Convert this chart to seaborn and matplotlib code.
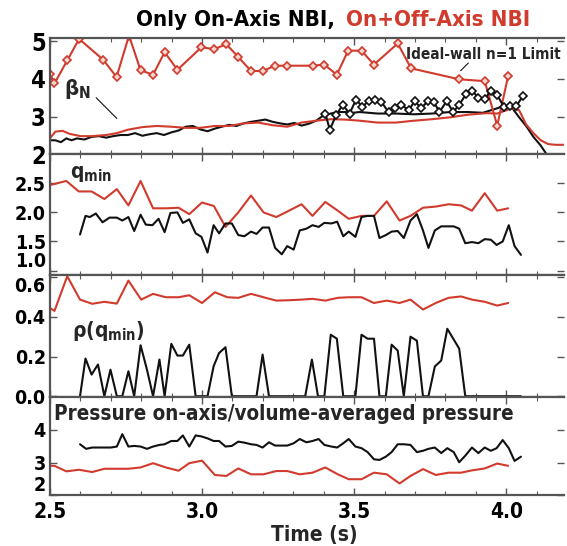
import numpy as np
import pandas as pd
import seaborn as sns
import matplotlib
matplotlib.use("Agg")
import matplotlib.pyplot as plt
from matplotlib import font_manager
from matplotlib.ticker import MultipleLocator, FormatStrFormatter

RED = '#d13b2d'
BLACK = '#111111'

# ---- panel 1: beta_N and ideal-wall limit ----
lim_t = [2.50, 2.515, 2.557, 2.596, 2.675, 2.719, 2.760, 2.798, 2.839, 2.877, 2.919,
         2.998, 3.039, 3.080, 3.119, 3.161, 3.200, 3.240, 3.280, 3.363, 3.402, 3.443,
         3.480, 3.524, 3.565, 3.643, 3.687, 3.845, 3.929, 3.970, 4.006]
lim_v = [4.14, 3.88, 4.49, 5.06, 4.51, 4.05, 5.15, 4.23, 4.11, 4.71, 4.24,
         4.84, 4.79, 4.92, 4.58, 4.21, 4.21, 4.35, 4.35, 4.35, 4.38, 4.11,
         4.75, 4.75, 4.38, 4.94, 4.28, 3.99, 3.94, 2.76, 4.08]

lim_on_t = [3.405, 3.420, 3.440, 3.462, 3.485, 3.506, 3.527, 3.548, 3.569, 3.589, 3.613,
            3.635, 3.655, 3.679, 3.699, 3.720, 3.742, 3.762, 3.780, 3.804, 3.825, 3.845,
            3.867, 3.887, 3.908, 3.929, 3.950, 3.970, 3.992, 4.012, 4.033, 4.054]
lim_on_v = [3.08, 2.65, 3.03, 3.31, 3.08, 3.45, 3.26, 3.42, 3.44, 3.39, 3.12,
            3.22, 3.31, 3.17, 3.41, 3.22, 3.41, 3.39, 3.12, 3.41, 3.12, 3.31,
            3.59, 3.69, 3.50, 3.47, 3.69, 3.57, 3.26, 3.28, 3.28, 3.54]

bn_on_t = [2.500, 2.518, 2.536, 2.554, 2.571, 2.589, 2.613, 2.637, 2.661, 2.685, 2.708,
           2.732, 2.756, 2.780, 2.804, 2.827, 2.851, 2.875, 2.899, 2.923, 2.946, 2.970,
           2.994, 3.018, 3.042, 3.065, 3.089, 3.113, 3.137, 3.161, 3.185, 3.208, 3.232,
           3.256, 3.280, 3.304, 3.327, 3.351, 3.375, 3.399, 3.423, 3.446, 3.470, 3.494,
           3.518, 3.577, 3.637, 3.696, 3.756, 3.815, 3.875, 3.923, 3.970, 3.994, 4.018,
           4.042, 4.065, 4.089, 4.113, 4.137, 4.161]
bn_on_v = [2.37, 2.37, 2.32, 2.42, 2.37, 2.42, 2.39, 2.46, 2.48, 2.44, 2.48,
           2.51, 2.51, 2.56, 2.49, 2.53, 2.56, 2.51, 2.58, 2.63, 2.73, 2.75,
           2.66, 2.61, 2.68, 2.73, 2.78, 2.75, 2.82, 2.86, 2.89, 2.92, 2.86,
           2.82, 2.79, 2.83, 2.76, 2.81, 2.89, 3.03, 3.08, 3.12, 3.12, 3.10,
           3.12, 3.08, 3.08, 3.06, 3.08, 3.12, 3.12, 3.10, 3.22, 3.29, 3.24,
           2.98, 2.75, 2.46, 2.23, 1.94, 1.80]

bn_off_t = [2.500, 2.518, 2.542, 2.565, 2.601, 2.637, 2.685, 2.720, 2.756, 2.804, 2.851,
            2.899, 2.946, 2.994, 3.042, 3.089, 3.137, 3.185, 3.232, 3.280, 3.327, 3.375,
            3.423, 3.470, 3.518, 3.577, 3.637, 3.696, 3.756, 3.815, 3.875, 3.935, 3.970,
            4.018, 4.042, 4.065, 4.089, 4.113, 4.137, 4.161, 4.194]
bn_off_v = [2.42, 2.60, 2.62, 2.54, 2.48, 2.48, 2.51, 2.56, 2.65, 2.72, 2.75,
            2.73, 2.70, 2.70, 2.75, 2.75, 2.82, 2.84, 2.77, 2.73, 2.84, 2.89,
            2.93, 2.92, 2.89, 2.84, 2.84, 2.89, 2.93, 2.98, 3.05, 3.09, 3.08,
            3.22, 3.17, 2.79, 2.56, 2.37, 2.27, 2.25, 2.25]

# ---- panel 2: q_min ----
q_off_t = [2.500, 2.554, 2.595, 2.637, 2.679, 2.720, 2.758, 2.798, 2.839, 2.881, 2.923,
           2.958, 3.000, 3.039, 3.077, 3.119, 3.161, 3.202, 3.244, 3.286, 3.327, 3.363,
           3.405, 3.446, 3.482, 3.524, 3.565, 3.607, 3.649, 3.685, 3.726, 3.768, 3.810,
           3.851, 3.887, 3.929, 3.970, 4.006]
q_off_v = [2.47, 2.54, 2.36, 2.36, 2.23, 2.40, 2.12, 2.54, 2.07, 2.07, 2.08,
           1.97, 2.17, 2.11, 1.75, 2.00, 2.29, 2.00, 1.92, 2.03, 2.14, 1.94,
           2.18, 2.03, 1.89, 1.94, 1.94, 2.19, 1.86, 1.94, 2.08, 2.10, 2.14,
           2.12, 2.03, 2.33, 2.03, 2.07]

q_on_t = [2.599, 2.617, 2.631, 2.651, 2.673, 2.696, 2.720, 2.738, 2.758, 2.777, 2.798,
          2.815, 2.837, 2.857, 2.877, 2.896, 2.919, 2.937, 2.958, 2.979, 2.998, 3.018,
          3.038, 3.056, 3.077, 3.098, 3.119, 3.139, 3.161, 3.179, 3.199, 3.220, 3.240,
          3.262, 3.280, 3.301, 3.321, 3.343, 3.363, 3.383, 3.402, 3.425, 3.444, 3.464,
          3.482, 3.504, 3.524, 3.544, 3.565, 3.583, 3.604, 3.623, 3.643, 3.663, 3.685,
          3.706, 3.726, 3.744, 3.765, 3.786, 3.806, 3.827, 3.845, 3.865, 3.887, 3.908,
          3.929, 3.949, 3.968, 3.988, 4.008, 4.027, 4.048]
q_on_v = [1.62, 1.94, 1.92, 1.98, 1.83, 1.91, 1.91, 1.86, 1.92, 1.68, 1.96,
          1.79, 1.78, 1.89, 1.66, 1.99, 2.00, 1.82, 1.88, 1.64, 1.58, 1.31,
          1.78, 1.64, 1.81, 1.81, 1.61, 1.59, 1.67, 1.63, 1.74, 1.74, 1.39,
          1.28, 1.42, 1.36, 1.69, 1.72, 1.78, 1.75, 1.82, 1.81, 1.84, 1.59,
          1.67, 1.58, 1.92, 1.94, 1.94, 1.56, 1.61, 1.67, 1.68, 1.56, 1.86,
          1.97, 1.69, 1.39, 1.69, 1.76, 1.76, 1.76, 1.72, 1.47, 1.49, 1.47,
          1.54, 1.53, 1.44, 1.50, 1.78, 1.42, 1.27]

# ---- panel 3: rho(q_min) ----
rho_off_t = [2.500, 2.515, 2.557, 2.599, 2.639, 2.679, 2.720, 2.758, 2.800, 2.839, 2.881,
             2.923, 2.958, 3.000, 3.042, 3.083, 3.119, 3.161, 3.202, 3.244, 3.286, 3.327,
             3.363, 3.405, 3.446, 3.482, 3.524, 3.565, 3.607, 3.649, 3.685, 3.726, 3.768,
             3.810, 3.851, 3.887, 3.929, 3.970, 4.006]
rho_off_v = [0.445, 0.430, 0.605, 0.487, 0.466, 0.476, 0.467, 0.583, 0.487, 0.516, 0.499,
             0.499, 0.509, 0.470, 0.524, 0.499, 0.496, 0.516, 0.499, 0.482, 0.484, 0.487,
             0.491, 0.482, 0.496, 0.499, 0.499, 0.470, 0.482, 0.470, 0.487, 0.437, 0.470,
             0.496, 0.503, 0.487, 0.476, 0.457, 0.470]

rho_on_t = [2.599, 2.617, 2.637, 2.658, 2.679, 2.699, 2.720, 2.738, 2.758, 2.777, 2.798,
            2.819, 2.839, 2.860, 2.877, 2.899, 2.919, 2.937, 2.958, 2.979, 3.018, 3.038,
            3.056, 3.077, 3.098, 3.179, 3.199, 3.220, 3.339, 3.361, 3.381, 3.402, 3.423,
            3.443, 3.464, 3.504, 3.524, 3.544, 3.565, 3.583, 3.604, 3.623, 3.643, 3.663,
            3.685, 3.706, 3.726, 3.744, 3.765, 3.786, 3.806, 3.845, 3.865, 4.048]
rho_on_v = [0.0, 0.19, 0.109, 0.16, 0.0, 0.134, 0.0, 0.0, 0.126, 0.0, 0.257,
            0.134, 0.0, 0.185, 0.0, 0.264, 0.205, 0.205, 0.26, 0.0, 0.0, 0.151,
            0.218, 0.247, 0.0, 0.0, 0.21, 0.0, 0.0, 0.185, 0.0, 0.0, 0.31,
            0.29, 0.0, 0.0, 0.31, 0.29, 0.29, 0.0, 0.0, 0.26, 0.23, 0.0,
            0.30, 0.28, 0.0, 0.0, 0.15, 0.18, 0.34, 0.24, 0.0, 0.0]

# ---- panel 4: p0 / <p> ----
p_on_t = [2.599, 2.619, 2.639, 2.661, 2.681, 2.700, 2.720, 2.738, 2.758, 2.777, 2.798,
          2.819, 2.839, 2.860, 2.877, 2.899, 2.919, 2.937, 2.958, 2.979, 2.998, 3.018,
          3.038, 3.056, 3.077, 3.098, 3.119, 3.139, 3.161, 3.179, 3.199, 3.220, 3.240,
          3.262, 3.280, 3.301, 3.321, 3.343, 3.363, 3.383, 3.402, 3.425, 3.444, 3.464,
          3.482, 3.504, 3.524, 3.544, 3.565, 3.583, 3.604, 3.623, 3.643, 3.663, 3.685,
          3.706, 3.726, 3.744, 3.765, 3.786, 3.806, 3.827, 3.845, 3.865, 3.887, 3.908,
          3.929, 3.949, 3.968, 3.988, 4.008, 4.027, 4.048]
p_on_v = [3.56, 3.42, 3.46, 3.46, 3.46, 3.46, 3.49, 3.87, 3.49, 3.51, 3.49,
          3.42, 3.49, 3.54, 3.56, 3.66, 3.66, 3.83, 3.49, 3.83, 3.80, 3.74,
          3.66, 3.66, 3.49, 3.51, 3.64, 3.61, 3.56, 3.54, 3.46, 3.62, 3.52,
          3.52, 3.52, 3.59, 3.72, 3.62, 3.66, 3.72, 3.54, 3.49, 3.46, 3.59,
          3.72, 3.49, 3.44, 3.32, 3.10, 3.08, 3.18, 3.32, 3.56, 3.56, 3.54,
          3.32, 3.36, 3.42, 3.46, 3.29, 3.44, 3.32, 3.01, 3.21, 3.46, 3.29,
          3.46, 3.36, 3.44, 3.69, 3.44, 3.05, 3.18]

p_off_t = [2.500, 2.515, 2.554, 2.595, 2.639, 2.679, 2.720, 2.758, 2.798, 2.839, 2.881,
           2.923, 2.958, 3.000, 3.042, 3.080, 3.119, 3.161, 3.202, 3.244, 3.280, 3.321,
           3.363, 3.405, 3.446, 3.482, 3.524, 3.565, 3.607, 3.649, 3.685, 3.726, 3.768,
           3.810, 3.851, 3.887, 3.929, 3.970, 4.006]
p_off_v = [2.90, 2.90, 2.73, 2.78, 2.71, 2.81, 2.81, 2.81, 2.85, 2.98, 2.85,
           2.75, 2.98, 3.06, 2.62, 2.59, 2.82, 2.64, 2.64, 2.74, 2.74, 2.64,
           2.69, 2.85, 2.64, 2.49, 2.49, 2.69, 2.64, 2.36, 2.59, 2.80, 2.62,
           2.69, 2.69, 2.76, 2.82, 2.97, 2.90]

sns.set_theme(style='white')
names = {f.name for f in font_manager.fontManager.ttflist}
FONT = 'Liberation Sans Narrow' if 'Liberation Sans Narrow' in names else 'DejaVu Sans'
plt.rcParams['font.family'] = [FONT, 'DejaVu Sans']
plt.rcParams['font.weight'] = 'bold'
plt.rcParams['font.stretch'] = 'condensed'
plt.rcParams['mathtext.fontset'] = 'custom'
plt.rcParams['mathtext.rm'] = FONT + ':bold:stretch=condensed'
plt.rcParams['mathtext.it'] = FONT + ':bold:stretch=condensed'
plt.rcParams['mathtext.bf'] = FONT + ':bold:stretch=condensed'
plt.rcParams['mathtext.default'] = 'rm'

fig = plt.figure(figsize=(5.67, 5.46), dpi=100)
gs = fig.add_gridspec(4, 1, height_ratios=[116, 121, 122, 98], hspace=0,
                      left=0.088, right=0.995, top=0.93, bottom=0.093)
axes = [fig.add_subplot(gs[i]) for i in range(4)]


def line(ax, t, v, color, marker=None):
    df = pd.DataFrame({'t': t, 'v': v})
    kw = {}
    if marker:
        kw = dict(marker=marker, markersize=4.5,
                  markerfacecolor='#f4d8d0' if color == RED else 'white',
                  markeredgecolor=color, markeredgewidth=1.2)
    sns.lineplot(data=df, x='t', y='v', ax=ax, color=color, lw=1.5, sort=False,
                 estimator=None, **kw)


ax = axes[0]
line(ax, bn_on_t, bn_on_v, BLACK)
line(ax, bn_off_t, bn_off_v, RED)
line(ax, lim_t, lim_v, RED, marker='D')
line(ax, lim_on_t, lim_on_v, BLACK, marker='D')
ax.set_ylim(2.0, 5.08)
ax.set_yticks([2, 3, 4, 5])
ax.text(2.545, 3.72, r'$\beta_N$', fontsize=16, va='center', ha='left')
ax.plot([2.652, 2.72], [3.50, 2.95], color=BLACK, lw=0.8)
ax.text(4.18, 4.65, 'Ideal-wall n=1 Limit', fontsize=11, va='center', ha='right')
ax.plot([3.85, 3.875], [4.22, 4.42], color=BLACK, lw=0.8)

ax = axes[1]
line(ax, q_off_t, q_off_v, RED)
line(ax, q_on_t, q_on_v, BLACK)
ax.set_ylim(0.92, 3.0)
ax.set_yticks([1.0, 1.5, 2.0, 2.5])
ax.yaxis.set_major_formatter(FormatStrFormatter('%.1f'))
ax.text(2.565, 2.66, r'$q_{min}$', fontsize=15, va='center', ha='left')

ax = axes[2]
line(ax, rho_off_t, rho_off_v, RED)
line(ax, rho_on_t, rho_on_v, BLACK)
ax.set_ylim(-0.005, 0.61)
ax.set_yticks([0.0, 0.2, 0.4, 0.6])
ax.yaxis.set_major_formatter(FormatStrFormatter('%.1f'))
ax.text(2.573, 0.33, r'$\rho(q_{min})$', fontsize=15, va='center', ha='left')

ax = axes[3]
line(ax, p_on_t, p_on_v, BLACK)
line(ax, p_off_t, p_off_v, RED)
ax.set_ylim(2.0, 5.0)
ax.set_yticks([2, 3, 4])
ax.text(2.515, 4.5, 'Pressure on-axis/volume-averaged pressure', fontsize=14.8,
        va='center', ha='left')

for i, ax in enumerate(axes):
    ax.set_xlim(2.5, 4.19)
    ax.xaxis.set_major_locator(MultipleLocator(0.5))
    ax.xaxis.set_minor_locator(MultipleLocator(0.1))
    ax.tick_params(axis='both', which='both', direction='in', top=True, right=True,
                   bottom=True, left=True, colors='#555555', labelcolor='black')
    ax.tick_params(axis='both', which='major', length=5, width=1.0)
    ax.tick_params(axis='both', which='minor', length=3, width=0.8)
    ax.tick_params(axis='y', labelsize=17 if i == 0 else 14, pad=3)
    ax.set_xlabel('')
    ax.set_ylabel('')
    for s in ['left', 'top', 'bottom']:
        ax.spines[s].set_color('#555555')
        ax.spines[s].set_linewidth(1.6)
    ax.spines['right'].set_visible(False)
    if i < 3:
        ax.tick_params(axis='x', labelbottom=False)

fig.canvas.draw()
# keep tick labels of neighbouring panels apart, as in the original
axes[1].get_yticklabels()[0].set_verticalalignment('bottom')
axes[2].get_yticklabels()[-1].set_verticalalignment('top')
axes[3].get_yticklabels()[0].set_verticalalignment('bottom')

axes[3].set_xticks([2.5, 3.0, 3.5, 4.0])
axes[3].xaxis.set_major_formatter(FormatStrFormatter('%.1f'))
axes[3].tick_params(axis='x', labelsize=15, pad=5)
axes[3].set_xlabel('Time (s)', fontsize=15, fontweight='bold')
axes[3].xaxis.set_label_coords(0.515, -0.30)

fig.text(0.591, 0.963, 'Only On-Axis NBI,', ha='right', va='center', fontsize=16,
         fontweight='bold', color='black')
fig.text(0.610, 0.963, 'On+Off-Axis NBI', ha='left', va='center', fontsize=16,
         fontweight='bold', color=RED)

fig.savefig('out.png', dpi=100)
